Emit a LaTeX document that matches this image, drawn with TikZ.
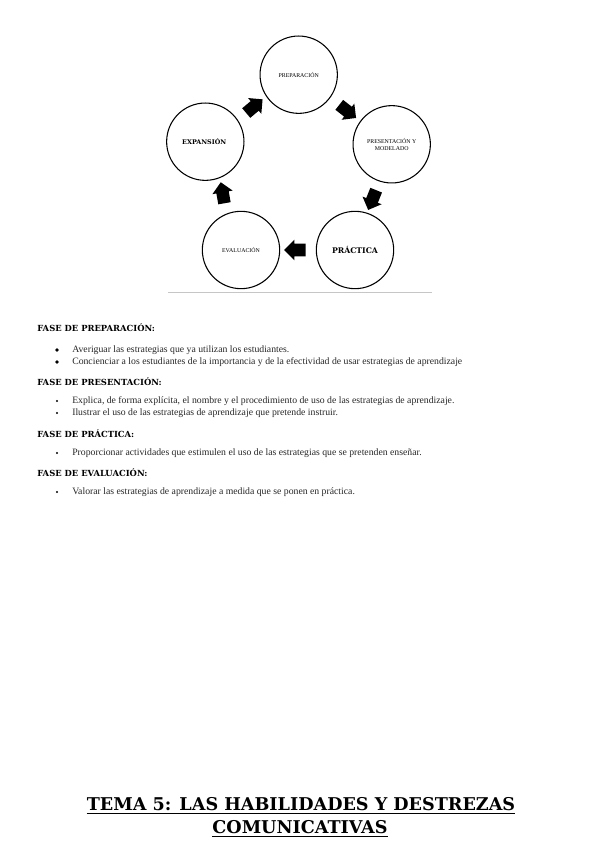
\documentclass[tikz,border=0pt]{standalone}
\usepackage{fontspec}
\setmainfont{Liberation Serif}
\newfontfamily\hdfont{DejaVu Serif}
\usetikzlibrary{shapes.arrows,calc}

\begin{document}
\begin{tikzpicture}[x=0.75pt,y=-0.75pt,
  fase/.style={draw=black, line width=0.8pt, circle, minimum size=58pt, inner sep=0pt, align=center},
  chico/.style={font=\fontsize{4.4}{5.2}\selectfont},
  medio/.style={font=\hdfont\bfseries\fontsize{4.8}{6}\selectfont},
  grande/.style={font=\hdfont\bfseries\fontsize{5.8}{7}\selectfont},
  flecha/.style={single arrow, fill=black, draw=none, minimum height=16pt, inner sep=4.5pt, single arrow head extend=3pt, single arrow tip angle=90},
  encabezado/.style={anchor=west, inner sep=0pt, font=\hdfont\bfseries\fontsize{6.3}{7.5}\selectfont},
  texto/.style={anchor=west, inner sep=0pt, text=black!85, font=\fontsize{7.3}{9}\selectfont},
  titulo/.style={anchor=base, inner sep=0pt, font=\hdfont\bfseries\fontsize{13.2}{15}\selectfont}]
\useasboundingbox (0,0) rectangle (599,848);

%ciclo de las cinco fases
\coordinate (P1) at (298.7,74.7);
\coordinate (P2) at (391.7,144.3);
\coordinate (P3) at (355,250);
\coordinate (P4) at (241,250);
\coordinate (P5) at (205.3,141.7);
\coordinate (L1) at (168,292);
\coordinate (L2) at (432,292);

\foreach \c/\v/\u/\t in
{ P1/prep/chico/PREPARACIÓN,
  P2/pres/chico/{PRESENTACIÓN Y\\MODELADO},
  P3/prac/grande/PRÁCTICA,
  P4/eval/chico/EVALUACIÓN,
  P5/expa/medio/EXPANSIÓN
}
{
    \node[fase,\u] (\v) at (\c) {\t};
};

\foreach \a/\b/\r in {prep/pres/-38, pres/prac/-112, prac/eval/180, eval/expa/100, expa/prep/40}
{
    \node[flecha, rotate=\r] (f\a) at ($(\a)!0.5!(\b)$) {};
};

\draw[gray!45, line width=0.6pt] (L1) -- (L2);

\foreach \n/\y/\t in
{ h1/328/FASE DE PREPARACIÓN:,
  h2/382/FASE DE PRESENTACIÓN:,
  h3/434/FASE DE PRÁCTICA:,
  h4/473/FASE DE EVALUACIÓN:
}
{
    \node[encabezado] (\n) at (37,\y) {\t};
};

\foreach \n/\y/\r/\t in
{ b1/350/1.8/Averiguar las estrategias que ya utilizan los estudiantes.,
  b2/362/1.8/Concienciar a los estudiantes de la importancia y de la efectividad de usar estrategias de aprendizaje,
  b3/401/1.2/{Explica, de forma explícita, el nombre y el procedimiento de uso de las estrategias de aprendizaje.},
  b4/413/1.2/Ilustrar el uso de las estrategias de aprendizaje que pretende instruir.,
  b5/453/1.2/Proporcionar actividades que estimulen el uso de las estrategias que se pretenden enseñar.,
  b6/492/1.2/Valorar las estrategias de aprendizaje a medida que se ponen en práctica.
}
{
    \fill (57,\y) circle (\r);
    \node[texto] (\n) at (72,\y) {\t};
};

\node[titulo] (t1) at (301,810) {TEMA 5: LAS HABILIDADES Y DESTREZAS};
\node[titulo] (t2) at (300,833) {COMUNICATIVAS};
\draw[line width=1.2pt] ([yshift=-2.5pt]t1.base west) -- ([yshift=-2.5pt]t1.base east);
\draw[line width=1.2pt] ([yshift=-2.5pt]t2.base west) -- ([yshift=-2.5pt]t2.base east);
\end{tikzpicture}
\end{document}
